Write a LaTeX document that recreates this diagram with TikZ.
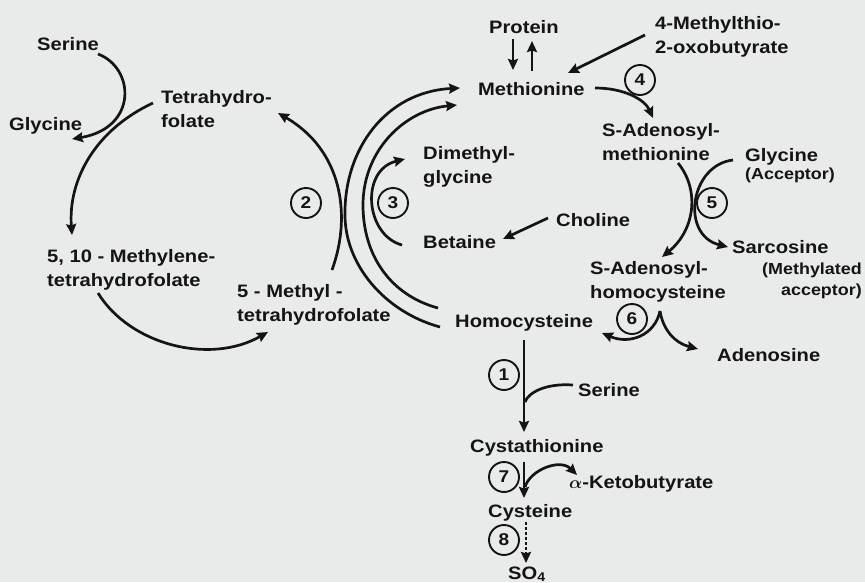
\documentclass[tikz,border=0pt]{standalone}
\usepackage{fontspec}
\usepackage{bm}
\newfontfamily\lab[FakeStretch=1.12]{Liberation Sans}
\usetikzlibrary{arrows.meta}
\definecolor{bg}{RGB}{233,234,234}
\definecolor{ink}{RGB}{20,20,20}
\begin{document}
\begin{tikzpicture}[x=1pt,y=-1pt,
  lbl/.style={inner sep=0pt, font=\lab\bfseries\fontsize{18}{23.5}\selectfont, text=ink, align=left, anchor=base west},
  note/.style={lbl, font=\lab\bfseries\fontsize{16}{21}\selectfont},
  enz/.style={circle, draw=ink, line width=1.9pt, minimum size=30pt, inner sep=0pt, font=\lab\bfseries\fontsize{17}{20}\selectfont, text=ink},
  rx/.style={draw=ink, line width=2.7pt, -{Stealth[length=11pt,width=10pt,inset=1.5pt]}},
  bar/.style={draw=ink, line width=2.7pt},
]
\fill[bg] (0,0) rectangle (865,582);
\useasboundingbox (0,0) rectangle (865,582);

% ---------- metabolites (two-line labels are placed by their last baseline) ----------
\node[lbl] (ser1) at (37,50) {Serine};
\node[lbl] (gly1) at (9,130) {Glycine};
\node[lbl] (thf) at (161,127) {Tetrahydro-\\folate};
\node[lbl] (mthf) at (47,286) {5, 10 - Methylene-\\tetrahydrofolate};
\node[lbl] (methf) at (237,321) {5 - Methyl -\\tetrahydrofolate};
\node[lbl] (prot) at (489,33) {Protein};
\node[lbl] (met) at (478,95) {Methionine};
\node[lbl] (mtob) at (655,53) {4-Methylthio-\\2-oxobutyrate};
\node[lbl] (sam) at (602,160) {S-Adenosyl-\\methionine};
\node[lbl] (gly2) at (745,161) {Glycine};
\node[note] (acc) at (745,179) {(Acceptor)};
\node[lbl] (dmg) at (423,183) {Dimethyl-\\glycine};
\node[lbl] (chol) at (556,226) {Choline};
\node[lbl] (bet) at (423,248) {Betaine};
\node[lbl] (sar) at (732,253) {Sarcosine};
\node[note, align=right, anchor=base east] (macc) at (862,295) {(Methylated\\acceptor)};
\node[lbl] (sah) at (590,298) {S-Adenosyl-\\homocysteine};
\node[lbl] (hcy) at (455,327) {Homocysteine};
\node[lbl] (ado) at (717,361) {Adenosine};
\node[lbl] (ser2) at (578,396) {Serine};
\node[lbl] (cth) at (470,452) {Cystathionine};
\node[lbl] (akb) at (569,488) {$\bm{\alpha}$-Ketobutyrate};
\node[lbl] (cys) at (488,517) {Cysteine};
\node[lbl] (so4) at (508,579) {SO\textsubscript{4}};

% ---------- enzyme numbers ----------
\node[enz] (e1) at (504,375) {1};
\node[enz] (e2) at (306,203) {2};
\node[enz] (e3) at (393,203) {3};
\node[enz] (e4) at (640,80) {4};
\node[enz] (e5) at (712,203) {5};
\node[enz] (e6) at (632,319) {6};
\node[enz] (e7) at (504,477) {7};
\node[enz] (e8) at (504,540) {8};

% ---------- connector end points ----------
\coordinate (serA) at (98,54);     \coordinate (glyA) at (72,139);
\coordinate (thfA) at (153,103);   \coordinate (mthfA) at (72,235);
\coordinate (mthfB) at (98,293);   \coordinate (methfA) at (268,332);
\coordinate (methfB) at (332,270); \coordinate (thfB) at (278,113);
\coordinate (hcyA) at (440,327);   \coordinate (metA) at (460,88);
\coordinate (hcyB) at (438,308);   \coordinate (metB) at (457,105);
\coordinate (betA) at (402,245);   \coordinate (dmgA) at (405,159);
\coordinate (protA) at (513,39);   \coordinate (metC) at (513,70);
\coordinate (metD) at (532,71);    \coordinate (protB) at (532,41);
\coordinate (mtobA) at (645,35);   \coordinate (metE) at (568,73);
\coordinate (metF) at (595,88);    \coordinate (samA) at (653,118);
\coordinate (samB) at (678,163);   \coordinate (sahA) at (662,257);
\coordinate (glyB) at (733,160);   \coordinate (sarA) at (728,247);
\coordinate (cholA) at (548,218);  \coordinate (betB) at (503,239);
\coordinate (sahB) at (660,311);   \coordinate (hcyC) at (602,333);
\coordinate (adoA) at (698,349);
\coordinate (hcyD) at (524,340);   \coordinate (cthA) at (524,432);
\coordinate (serB) at (573,385);   \coordinate (joinA) at (525,402);
\coordinate (cthB) at (524,462);   \coordinate (cysA) at (524,498);
\coordinate (joinB) at (525,487);  \coordinate (akbA) at (577,475);
\coordinate (cysB) at (526,522);   \coordinate (so4A) at (526,563);

% ---------- folate cycle ----------
\draw[rx] (serA) .. controls (135,68) and (138,128) .. (glyA);
\draw[rx] (thfA) .. controls (95,130) and (68,180) .. (mthfA);
\draw[rx] (mthfB) .. controls (130,345) and (210,365) .. (methfA);
\draw[rx] (methfB) .. controls (352,215) and (342,150) .. (thfB);

% ---------- remethylation of homocysteine ----------
\draw[rx] (hcyA) .. controls (385,312) and (345,265) .. (345,215)
                 .. controls (344,150) and (385,92) .. (metA);
\draw[rx] (hcyB) .. controls (390,295) and (363,255) .. (363,205)
                 .. controls (363,150) and (405,110) .. (metB);
\draw[rx] (betA) .. controls (365,235) and (360,170) .. (dmgA);
\draw[rx] (cholA) -- (betB);

% ---------- methionine ----------
\draw[rx] (protA) -- (metC);
\draw[rx] (metD) -- (protB);
\draw[rx] (mtobA) -- (metE);
\draw[rx] (metF) .. controls (625,88) and (645,100) .. (samA);

% ---------- transmethylation ----------
\draw[rx] (samB) .. controls (700,190) and (695,230) .. (sahA);
\draw[rx] (glyB) .. controls (690,165) and (680,235) .. (sarA);
\draw[rx] (sahB) .. controls (655,335) and (630,345) .. (hcyC);
\draw[rx] (sahB) .. controls (663,330) and (675,343) .. (adoA);

% ---------- transsulfuration ----------
\draw[rx] (hcyD) -- (cthA);
\draw[bar] (serB) .. controls (545,383) and (528,393) .. (joinA);
\draw[rx] (cthB) -- (cysA);
\draw[rx] (joinB) .. controls (530,470) and (560,458) .. (akbA);
\draw[rx, dash pattern=on 2.5pt off 2.5pt] (cysB) -- (so4A);
\end{tikzpicture}
\end{document}
